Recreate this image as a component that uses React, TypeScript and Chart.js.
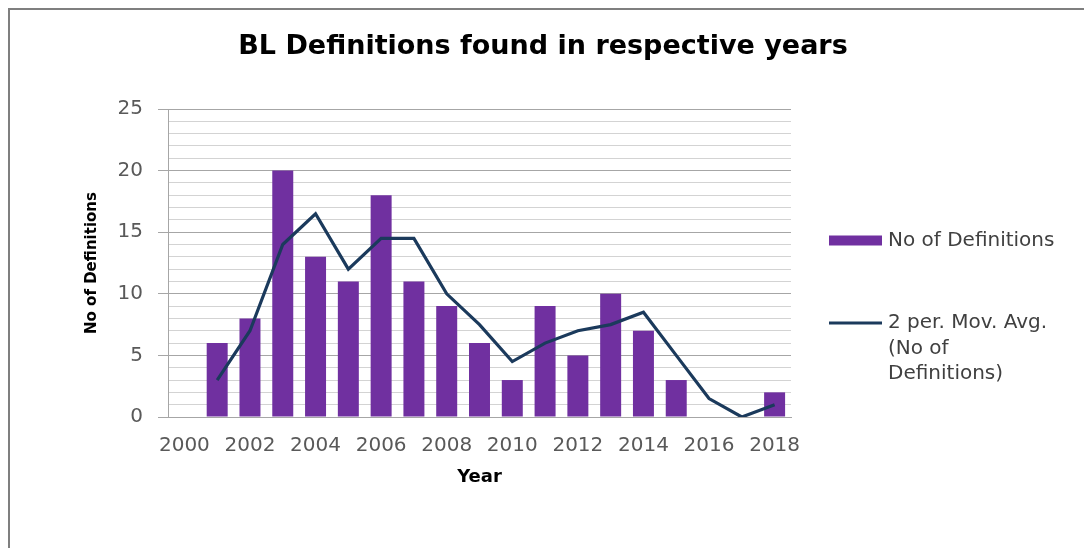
import React, { useEffect, useRef } from "react";
import { Chart, registerables } from "chart.js";

Chart.register(...registerables);

const FONT = "'DejaVu Sans', 'Open Sans', sans-serif";

const TITLE = "BL Definitions found in respective years";
const X_TITLE = "Year";
const Y_TITLE = "No of Definitions";

const YEARS = [
  "2000", "2001", "2002", "2003", "2004", "2005", "2006", "2007", "2008", "2009",
  "2010", "2011", "2012", "2013", "2014", "2015", "2016", "2017", "2018",
];
const DEFINITIONS = [0, 6, 8, 20, 13, 11, 18, 11, 9, 6, 3, 9, 5, 10, 7, 3, 0, 0, 2];
const MOV_AVG = [null, 3, 7, 14, 16.5, 12, 14.5, 14.5, 10, 7.5, 4.5, 6, 7, 7.5, 8.5, 5, 1.5, 0, 1];

const BAR_LABEL = "No of Definitions";
const LINE_LABEL = "2 per. Mov. Avg. (No of Definitions)";
const LINE_LABEL_LINES = ["2 per. Mov. Avg.", "(No of", "Definitions)"];

const Y_MIN = 0;
const Y_MAX = 25;
const Y_STEP = 1;
const Y_LABEL_EVERY = 5;

const BAR_COLOR = "#7030a0";
const LINE_COLOR = "#1b3a5c";
const MAJOR_GRID = "#a6a6a6";
const MINOR_GRID = "#d3d3d3";
const TICK_COLOR = "#595959";
const LEGEND_TEXT = "#404040";

const titleAndLegend = {
  id: "titleAndLegend",
  afterDraw(chart: any) {
    const { ctx, chartArea } = chart;
    const datasets = chart.data.datasets;
    const bar = datasets.find((d: any) => d.type === "bar");
    const line = datasets.find((d: any) => d.type === "line");
    ctx.save();
    // title
    ctx.font = `bold 27px ${FONT}`;
    ctx.fillStyle = "#000000";
    ctx.textAlign = "center";
    ctx.textBaseline = "middle";
    ctx.fillText(TITLE, 533, 37);
    // legend
    const boxX = chartArea.right + 38;
    const boxW = 53;
    const textX = boxX + boxW + 6;
    ctx.font = `20px ${FONT}`;
    ctx.textAlign = "left";
    const barY = 230.5;
    ctx.fillStyle = bar.backgroundColor;
    ctx.fillRect(boxX, barY - 5, boxW, 10);
    ctx.fillStyle = LEGEND_TEXT;
    ctx.fillText(bar.label, textX, barY);
    const lineY = 313;
    ctx.strokeStyle = line.borderColor;
    ctx.lineWidth = 3;
    ctx.beginPath();
    ctx.moveTo(boxX, lineY);
    ctx.lineTo(boxX + boxW, lineY);
    ctx.stroke();
    ctx.fillStyle = LEGEND_TEXT;
    LINE_LABEL_LINES.forEach((t, i) => ctx.fillText(t, textX, lineY + i * 25.5));
    ctx.restore();
  },
};

export default function App() {
  const canvasRef = useRef<HTMLCanvasElement | null>(null);

  useEffect(() => {
    const canvas = canvasRef.current;
    if (!canvas) return;
    const chart = new Chart(canvas, {
      type: "bar",
      data: {
        labels: YEARS,
        datasets: [
          {
            type: "line",
            label: LINE_LABEL,
            data: MOV_AVG,
            borderColor: LINE_COLOR,
            backgroundColor: LINE_COLOR,
            borderWidth: 3.2,
            pointRadius: 0,
            tension: 0,
            order: 0,
          } as any,
          {
            type: "bar",
            label: BAR_LABEL,
            data: DEFINITIONS,
            backgroundColor: BAR_COLOR,
            borderWidth: 0,
            categoryPercentage: 1,
            barPercentage: 0.64,
            order: 1,
          } as any,
        ],
      },
      options: {
        responsive: false,
        animation: false,
        layout: { padding: { left: 0, right: 293, top: 99, bottom: 0 } },
        plugins: {
          legend: { display: false },
          tooltip: { enabled: false },
          title: { display: false },
        },
        scales: {
          x: {
            type: "category",
            offset: true,
            grid: { display: false, drawTicks: false },
            border: { display: true, color: MAJOR_GRID },
            ticks: {
              autoSkip: false,
              maxRotation: 0,
              minRotation: 0,
              padding: 17,
              color: TICK_COLOR,
              font: { family: FONT, size: 20 },
              callback: (_v: any, i: number) => (i % 2 === 0 ? YEARS[i] : ""),
            },
            title: {
              display: true,
              text: X_TITLE,
              color: "#000000",
              font: { family: FONT, size: 18, weight: "bold" },
              padding: { top: 0, bottom: 60 },
            },
            afterFit: (scale: any) => {
              scale.height = 131;
            },
          },
          y: {
            min: Y_MIN,
            max: Y_MAX,
            ticks: {
              stepSize: Y_STEP,
              autoSkip: false,
              padding: 15,
              color: TICK_COLOR,
              font: { family: FONT, size: 20 },
              callback: (v: any) => (Number(v) % Y_LABEL_EVERY === 0 ? String(v) : ""),
            },
            grid: {
              color: (c: any) =>
                c.tick && c.tick.value % Y_LABEL_EVERY === 0 ? MAJOR_GRID : MINOR_GRID,
              tickColor: (c: any) =>
                c.tick && c.tick.value % Y_LABEL_EVERY === 0 ? MAJOR_GRID : "rgba(0,0,0,0)",
              tickLength: 10,
              lineWidth: 1,
            },
            border: { display: true, color: MAJOR_GRID },
            title: {
              display: true,
              text: Y_TITLE,
              color: "#000000",
              font: { family: FONT, size: 15, weight: "bold" },
              padding: { top: 73, bottom: 0 },
            },
            afterFit: (scale: any) => {
              scale.width = 158;
            },
          },
        },
      },
      plugins: [titleAndLegend],
    });
    return () => chart.destroy();
  }, []);

  return (
    <div
      style={{
        position: "fixed",
        left: 8,
        top: 8,
        width: 1076,
        height: 540,
        boxSizing: "border-box",
        borderTop: "2px solid #7f7f7f",
        borderLeft: "2px solid #7f7f7f",
        background: "#ffffff",
      }}
    >
      <canvas ref={canvasRef} width={1074} height={538} style={{ display: "block" }} />
    </div>
  );
}
